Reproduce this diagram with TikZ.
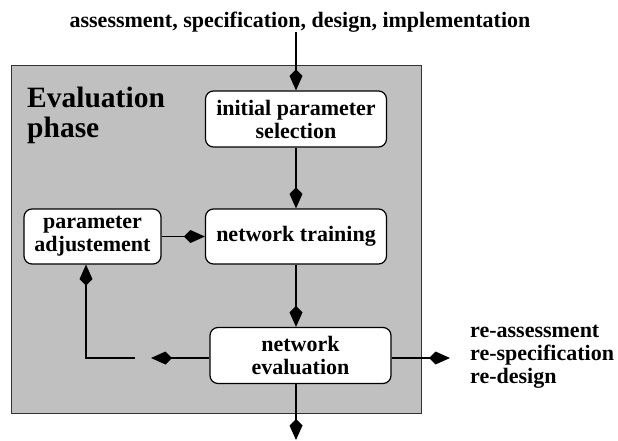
\documentclass[tikz,border=0pt]{standalone}
\usepackage{fontspec}
\setmainfont{Liberation Serif}
\usetikzlibrary{arrows.meta}
\definecolor{panelgray}{RGB}{192,192,192}
\begin{document}
\begin{tikzpicture}[x=1pt,y=-1pt,
  box/.style={draw=black, line width=1.2pt, fill=white, rounded corners=8pt,
    font=\fontsize{22}{23}\selectfont\bfseries, align=center, inner sep=0pt},
  flow/.style={line width=1.3pt, -{Kite[length=21pt,width=13pt,inset=6.5pt]}},
  lbl/.style={font=\fontsize{22}{23}\selectfont\bfseries, inner sep=0pt}]
\useasboundingbox (0,0) rectangle (618,441);

% grey panel of the evaluation phase
\draw[fill=panelgray, draw=black!80, line width=1.5pt] (11.7,65.7) rectangle (421.7,413.5);
\node[anchor=north west, inner sep=0pt, align=left,
      font=\fontsize{29.5}{30}\selectfont\bfseries] (phase) at (27,87) {Evaluation\\phase};

% process steps
\node[box, minimum width=181pt, minimum height=56pt] (init)  at (296,119)   {initial parameter\\selection};
\node[box, minimum width=181pt, minimum height=55pt] (train) at (296,236.5) {network training};
\node[box, minimum width=137pt, minimum height=55pt] (padj)  at (92.5,236.5) {parameter\\adjustement};
\node[box, minimum width=181pt, minimum height=56pt] (eval)  at (300.5,355.5) {network\\evaluation};

% external labels
\node[lbl] (top) at (300,22) {assessment, specification, design, implementation};
\node[lbl, anchor=west, align=left] (redo) at (470,357) {re-assessment\\re-specification\\re-design};

% free ends of connectors
\coordinate (lefttip)    at (151,358);
\coordinate (loopstart)  at (135,358);
\coordinate (loopcorner) at (86,358);
\coordinate (righttip)   at (450,358);
\coordinate (bottomtip)  at (296,440);

% connectors
\draw[flow] (top.south -| init.north) -- (init.north);
\draw[flow] (init) -- (train);
\draw[flow] (train.south) -- (train.south |- eval.north);
\draw[flow] (padj) -- (train);
\draw[flow] (eval.west |- lefttip) -- (lefttip);
\draw[flow] (loopstart) -- (loopcorner) -- (loopcorner |- padj.south);
\draw[flow] (eval.east |- righttip) -- (righttip);
\draw[flow] (eval.south -| train.south) -- (bottomtip);
\end{tikzpicture}
\end{document}
